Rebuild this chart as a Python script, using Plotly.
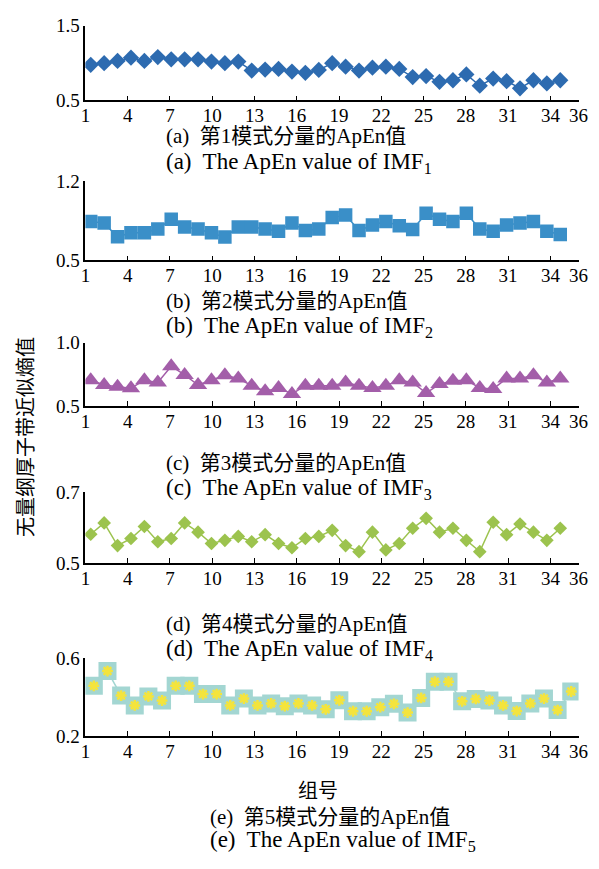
import plotly.graph_objects as go

W, H = 599, 869

groups = list(range(1, 37))
xtick_labels = [1, 4, 7, 10, 13, 16, 19, 22, 25, 28, 31, 34, 36]

imf1 = [0.976, 0.998, 1.028, 1.071, 1.028, 1.079, 1.049, 1.049, 1.049, 1.019, 0.998, 1.019,
        0.899, 0.912, 0.921, 0.886, 0.869, 0.908, 0.998, 0.951, 0.899, 0.938, 0.951, 0.921,
        0.813, 0.826, 0.749, 0.770, 0.848, 0.697, 0.792, 0.758, 0.663, 0.770, 0.727, 0.770]
imf2 = [0.846, 0.831, 0.710, 0.745, 0.745, 0.779, 0.866, 0.797, 0.779, 0.745, 0.707, 0.797,
        0.797, 0.779, 0.759, 0.831, 0.765, 0.779, 0.880, 0.903, 0.765, 0.814, 0.846, 0.808,
        0.774, 0.918, 0.866, 0.846, 0.918, 0.779, 0.759, 0.814, 0.831, 0.846, 0.759, 0.730]
imf3 = [0.705, 0.667, 0.654, 0.641, 0.705, 0.687, 0.815, 0.746, 0.667, 0.705, 0.744, 0.718,
        0.662, 0.618, 0.644, 0.597, 0.662, 0.662, 0.662, 0.687, 0.662, 0.644, 0.662, 0.705,
        0.687, 0.603, 0.674, 0.700, 0.705, 0.644, 0.636, 0.718, 0.718, 0.744, 0.687, 0.718]
imf4 = [0.581, 0.613, 0.549, 0.569, 0.603, 0.560, 0.569, 0.613, 0.587, 0.555, 0.564, 0.575,
        0.560, 0.580, 0.555, 0.543, 0.569, 0.575, 0.592, 0.549, 0.532, 0.587, 0.537, 0.555,
        0.598, 0.626, 0.587, 0.598, 0.564, 0.532, 0.615, 0.580, 0.610, 0.587, 0.564, 0.598]
imf5 = [0.457, 0.533, 0.407, 0.357, 0.403, 0.382, 0.457, 0.457, 0.415, 0.415, 0.357, 0.392,
        0.357, 0.367, 0.353, 0.367, 0.357, 0.337, 0.383, 0.327, 0.327, 0.348, 0.365, 0.320,
        0.395, 0.478, 0.478, 0.378, 0.390, 0.382, 0.357, 0.328, 0.367, 0.392, 0.333, 0.428]

cn_captions = ["(a)  第1模式分量的ApEn值", "(b)  第2模式分量的ApEn值", "(c)  第3模式分量的ApEn值",
               "(d)  第4模式分量的ApEn值", "(e)  第5模式分量的ApEn值"]
en_captions = ["(a)  The ApEn value of IMF<sub>1</sub>", "(b)  The ApEn value of IMF<sub>2</sub>",
               "(c)  The ApEn value of IMF<sub>3</sub>", "(d)  The ApEn value of IMF<sub>4</sub>",
               "(e)  The ApEn value of IMF<sub>5</sub>"]
y_title = "无量纲厚子带近似熵值"
x_title = "组号"

FONT = "Liberation Serif, Noto Sans CJK SC"

def py(p):
    return 1 - p / H

# layout settings per panel (pixel positions in the figure)
panels = [
    dict(y=imf1, yr=[0.5, 1.5], yt=["0.5", "1.5"], top=16, bot=92.7, a=1.38, b=0.952,
         sym="diamond", size=12.5, color="#2d6bb0", cap=(163, 129, 157)),
    dict(y=imf2, yr=[0.5, 1.2], yt=["0.5", "1.2"], top=175.7, bot=256.7, a=1.38, b=0.952,
         sym="square", size=13.5, color="#3a8fc8", cap=(163, 298, 325)),
    dict(y=imf3, yr=[0.5, 1.0], yt=["0.5", "1.0"], top=341, bot=406, a=1.38, b=0.952,
         sym="triangle-up", size=16, color="#a35ea9", cap=(163, 464, 491)),
    dict(y=imf4, yr=[0.5, 0.7], yt=["0.5", "0.7"], top=494, bot=566.7, a=1.38, b=0.952,
         sym="diamond", size=10.5, color="#9cc34e", cap=(163, 629, 656)),
    dict(y=imf5, yr=[0.2, 0.6], yt=["0.2", "0.6"], top=664, bot=744, a=1.60, b=0.968,
         sym="square", size=18, color="#a3d6d2", cap=(208, 827, 852)),
]

X0, X1 = 82.3, 587.3

fig = go.Figure()
annotations = []
for i, p in enumerate(panels):
    k = "" if i == 0 else str(i + 1)
    xa, ya = "x" + k, "y" + k
    fig.add_trace(go.Scatter(
        x=groups, y=p["y"], xaxis=xa, yaxis=ya, mode="lines+markers",
        line=dict(color=p["color"], width=1.5),
        marker=dict(symbol=p["sym"], size=p["size"], color=p["color"], line=dict(width=0)),
        showlegend=False))
    if i == 4:
        fig.add_trace(go.Scatter(
            x=groups, y=p["y"], xaxis=xa, yaxis=ya, mode="markers",
            marker=dict(symbol="asterisk-open", size=9, color="#f4e43c",
                        line=dict(color="#f4e43c", width=2.5)),
            showlegend=False))
    a, b = p["a"], p["b"]
    g = lambda u: (u - a) / b + 1
    xaxis = dict(domain=[X0 / W, X1 / W], range=[g(1), g(36)], anchor=ya,
                 tickmode="array", tickvals=[g(v) for v in xtick_labels],
                 ticktext=[str(v) for v in xtick_labels],
                 showline=True, linecolor="black", linewidth=1.5,
                 ticks="inside", ticklen=5, tickwidth=1.3, tickcolor="black",
                 ticklabelstandoff=-3,
                 showgrid=False, zeroline=False,
                 tickfont=dict(family=FONT, size=19, color="black"))
    yaxis = dict(domain=[py(p["bot"]), py(p["top"])], range=p["yr"], anchor=xa,
                 tickmode="array", tickvals=p["yr"], ticktext=p["yt"],
                 showline=True, linecolor="black", linewidth=1.5,
                 ticks="inside", ticklen=5, tickwidth=1.3, tickcolor="black",
                 showgrid=False, zeroline=False,
                 tickfont=dict(family=FONT, size=19, color="black"))
    fig.update_layout(**{"xaxis" + k: xaxis, "yaxis" + k: yaxis})
    cx, cy1, cy2 = p["cap"]
    annotations.append(dict(text=cn_captions[i], x=cx / W, y=py(cy1), xref="paper", yref="paper",
                            xanchor="left", yanchor="middle", showarrow=False,
                            font=dict(family=FONT, size=21, color="black")))
    annotations.append(dict(text=en_captions[i], x=cx / W, y=py(cy2), xref="paper", yref="paper",
                            xanchor="left", yanchor="middle", showarrow=False,
                            font=dict(family=FONT, size=23, color="black")))

annotations.append(dict(text=x_title, x=320 / W, y=py(800), xref="paper", yref="paper",
                        xanchor="center", yanchor="middle", showarrow=False,
                        font=dict(family=FONT, size=20, color="black")))
annotations.append(dict(text=y_title, x=22 / W, y=py(437), xref="paper", yref="paper",
                        xanchor="center", yanchor="middle", showarrow=False, textangle=-90,
                        font=dict(family=FONT, size=20, color="black")))

fig.update_layout(width=W, height=H, margin=dict(l=0, r=0, t=0, b=0),
                  paper_bgcolor="white", plot_bgcolor="white",
                  annotations=annotations, showlegend=False)

fig.write_html("out.html")
